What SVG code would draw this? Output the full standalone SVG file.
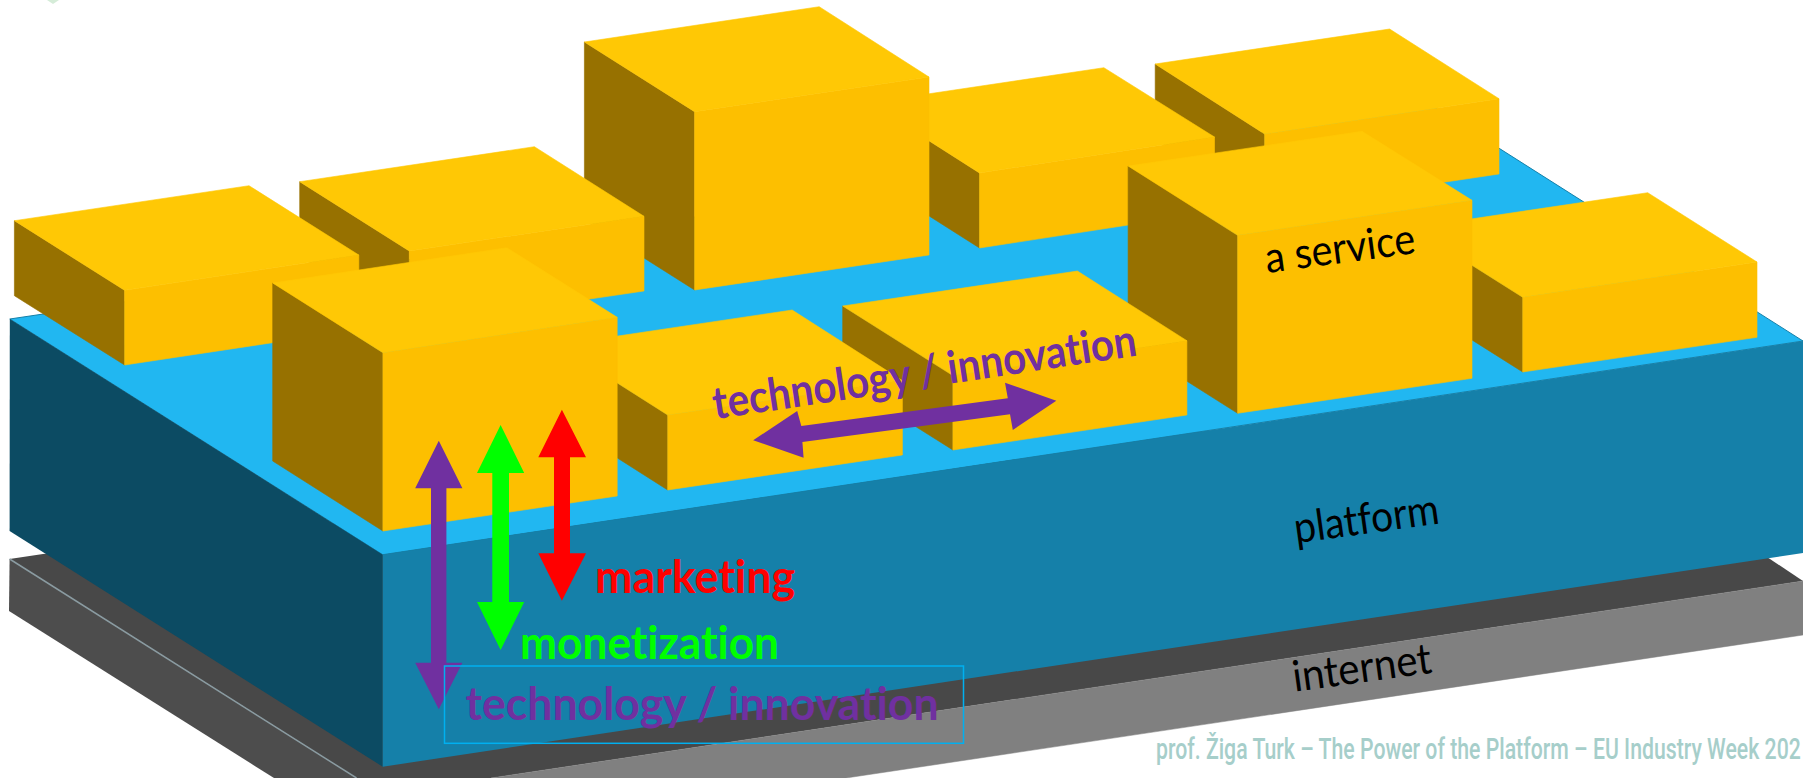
<svg xmlns="http://www.w3.org/2000/svg" width="1803" height="778" viewBox="0 0 1803 778">
<style>
.t{fill:#FFC805;stroke:#FFC805}.f{fill:#FDBF00;stroke:#FDBF00}.s{fill:#977100;stroke:#977100}
.t,.f,.s{stroke-width:.6;stroke-linejoin:round}
.lbl{font-family:"Lato","Open Sans",sans-serif;font-size:43px;font-variant-ligatures:none}
.b{font-weight:700;font-size:45px}
.purple{fill:#7030A0}
</style>
<rect width="1803" height="778" fill="#fff"/>
<polygon points="47,0 59,0 53,4" fill="#d5ecd8"/>
<g id="internet">
<polygon points="9.6,559 356.5,778 491,778 1803,581 1770,559 1500,400 43,554" fill="#484848"/>
<polygon points="9.6,559 9,611 274,778 356.5,778" fill="#4D4D4D"/>
<polyline points="9.6,559 356.5,778" fill="none" stroke="#8a9ba1" stroke-width="1.5"/>
<polygon points="491,778 1803,581 1803,635 1000,755 846,778" fill="#808080" stroke="#808080" stroke-width=".5"/>
<text class="lbl" transform="translate(1294.4 691.7) rotate(-7.8)" textLength="140" lengthAdjust="spacingAndGlyphs">internet</text>
</g>
<g id="platform">
<polygon points="9.8,319 1434,107 1803,341 382.7,554.7" fill="#21B7F1" stroke="#1580A9" stroke-width="1"/>
<polygon points="9.8,319 382.7,554.7 382.7,766.7 9.6,531" fill="#0C4B63"/>
<polygon points="382.7,554.7 1803,341 1803,553 382.7,766.7" fill="#1580A9"/>
<text class="lbl" transform="translate(1296 543.3) rotate(-7.9)" textLength="146" lengthAdjust="spacingAndGlyphs">platform</text>
</g>
<g id="box8"><polygon class="s" points="1155.2,64 1264.6,134 1264.6,209 1155.2,139"/><polygon class="f" points="1264.6,134 1499,98.7 1499,174 1264.6,209"/><polygon class="t" points="1155.2,64 1389.6,29 1499,98.7 1264.6,134"/></g>
<g id="box7"><polygon class="s" points="869.3,102.7 979.5,173 979.5,248 869.3,178"/><polygon class="f" points="979.5,173 1214.5,137 1214.5,211.7 979.5,248"/><polygon class="t" points="869.3,102.7 1103.9,67.7 1214.5,137 979.5,173"/></g>
<g id="box3"><polygon class="s" points="584.4,42 694.6,111.7 694.6,290 584.4,220.3"/><polygon class="f" points="694.6,111.7 929,77 929,255 694.6,290"/><polygon class="t" points="584.4,42 819.2,6.7 929,77 694.6,111.7"/></g>
<g id="box2"><polygon class="s" points="299.7,181.7 409.3,251 409.3,325.7 299.7,256.4"/><polygon class="f" points="409.3,251 644,216.3 644,291 409.3,325.7"/><polygon class="t" points="299.7,181.7 534.4,146.7 644,216.3 409.3,251"/></g>
<g id="box1"><polygon class="s" points="14.4,220.7 124.6,290.3 124.6,365 14.4,295.7"/><polygon class="f" points="124.6,290.3 358.8,255 358.8,329.7 124.6,365"/><polygon class="t" points="14.4,220.7 249,185.7 358.8,255 124.6,290.3"/></g>
<g id="box10"><polygon class="s" points="1412.5,227.7 1522.7,297.3 1522.7,372 1412.5,302.4"/><polygon class="f" points="1522.7,297.3 1757,262 1757,337.3 1522.7,372"/><polygon class="t" points="1412.5,227.7 1647.7,192.7 1757,262 1522.7,297.3"/></g>
<g id="box9"><polygon class="s" points="1128.1,166 1237.6,235.3 1237.6,413.3 1128.1,344"/><polygon class="f" points="1237.6,235.3 1472,200.3 1472,378.3 1237.6,413.3"/><polygon class="t" points="1128.1,166 1362,131.3 1472,200.3 1237.6,235.3"/>
<text class="lbl" transform="translate(1267 273) rotate(-7.6)" textLength="151" lengthAdjust="spacingAndGlyphs">a service</text></g>
<g id="box6"><polygon class="s" points="842.7,306 952.9,375.6 952.9,450 842.7,380.6"/><polygon class="f" points="952.9,375.6 1186.9,340.7 1186.9,415 952.9,450"/><polygon class="t" points="842.7,306 1077.4,271 1186.9,340.7 952.9,375.6"/></g>
<g id="box5"><polygon class="s" points="557.6,345 667.7,415 667.7,490 557.6,420"/><polygon class="f" points="667.7,415 902.4,380.6 902.4,455 667.7,490"/><polygon class="t" points="557.6,345 792.2,310 902.4,380.6 667.7,415"/></g>
<g id="box4"><polygon class="s" points="272.7,283 382.9,352.7 382.9,531 272.7,461"/><polygon class="f" points="382.9,352.7 617.2,317.3 617.2,496 382.9,531"/><polygon class="t" points="272.7,283 506.9,247.7 617.2,317.3 382.9,352.7"/></g>
<g id="connectors">
<polygon class="purple" id="arrow-tech-v" points="438.8,440.7 462.4,488.3 446.4,488.3 446.4,662.7 462.4,662.7 438.8,709.3 415.2,662.7 431,662.7 431,488.3 415.2,488.3"/>
<polygon fill="#00FF00" id="arrow-monetization" points="500.6,425 524.2,473 509,473 509,602 524.2,602 500.6,650 477,602 492.3,602 492.3,473 477,473"/>
<polygon fill="#FF0000" id="arrow-marketing" points="561.9,409.7 586,457.3 570,457.3 570,553.3 586,553.3 561.9,600.7 538.3,553.3 554,553.3 554,457.3 538.3,457.3"/>
<polygon class="purple" id="arrow-tech-h" points="753.2,440.3 797.2,411 801.3,426 1007.8,398.3 1005,382.7 1056.3,400.7 1012.8,430 1010,414.3 802.4,442 803.6,457.7"/>
</g>
<g id="labels">
<text class="lbl b purple" transform="translate(715 419.3) rotate(-8.6)" textLength="428" lengthAdjust="spacingAndGlyphs">technology / innovation</text>
<text class="lbl b" x="595" y="593.3" fill="#FF0000" textLength="200" lengthAdjust="spacingAndGlyphs">marketing</text>
<text class="lbl b" x="520" y="659.3" fill="#00FF00" textLength="259" lengthAdjust="spacingAndGlyphs">monetization</text>
<text class="lbl b purple" x="465.6" y="720" textLength="473" lengthAdjust="spacingAndGlyphs">technology / innovation</text>
<rect x="444.5" y="666" width="519" height="77.3" fill="none" stroke="#00B0F0" stroke-width="1.5"/>
<text transform="translate(1156 759.3) scale(.8 1)" fill="#A6CECA" style="font-family:Roboto,'Liberation Sans',sans-serif;font-size:29px;font-weight:500" textLength="806" lengthAdjust="spacingAndGlyphs">prof. Žiga Turk – The Power of the Platform – EU Industry Week 202</text>
</g>
</svg>
